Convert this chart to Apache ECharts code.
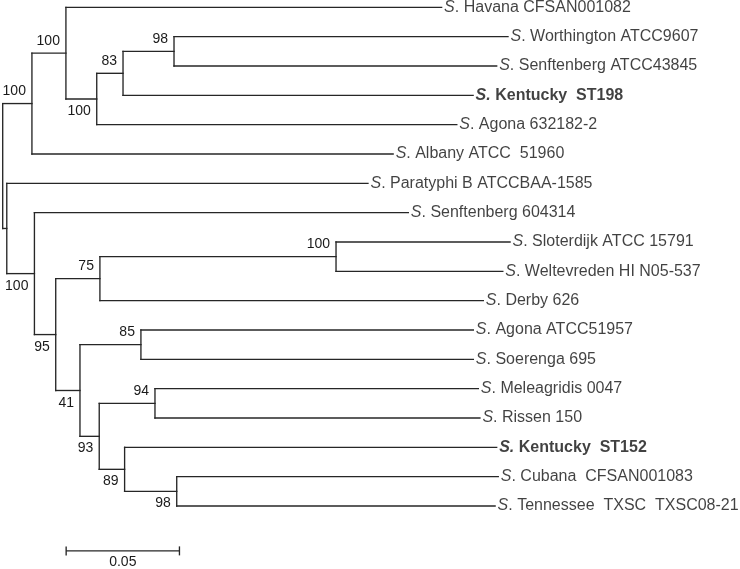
<!DOCTYPE html>
<html><head><meta charset="utf-8">
<script src="https://cdn.jsdelivr.net/npm/echarts@6/dist/echarts.min.js"></script>
<style>html,body{margin:0;padding:0;background:#fff}#c{width:740px;height:569px}</style>
</head><body><div id="c"></div>
<script>
const leafNames = [
  'Havana CFSAN001082',
  'Worthington ATCC9607',
  'Senftenberg ATCC43845',
  'Kentucky  ST198',
  'Agona 632182-2',
  'Albany ATCC  51960',
  'Paratyphi B ATCCBAA-1585',
  'Senftenberg 604314',
  'Sloterdijk ATCC 15791',
  'Weltevreden HI N05-537',
  'Derby 626',
  'Agona ATCC51957',
  'Soerenga 695',
  'Meleagridis 0047',
  'Rissen 150',
  'Kentucky  ST152',
  'Cubana  CFSAN001083',
  'Tennessee  TXSC  TXSC08-21'
];
const leafBold = [false,false,false,true,false,false,false,false,false,false,false,false,false,false,false,true,false,false];
// cumulative distance from root to each leaf
const leafDepth = [0.1937,0.2230,0.2180,0.2076,0.2004,0.1723,0.1612,0.1790,0.2239,0.2207,0.2121,0.2077,0.2077,0.2099,0.2106,0.2180,0.2187,0.2173];
// internal nodes: id, cumulative distance, children (number = leaf index, string = node id), bootstrap
const nodeIds      = ['R','A','B','C','D','E','F','G','H','I','J','K','L','M','N','O','P'];
const nodeDepth    = [0,0.0129,0.0279,0.0415,0.0531,0.0756,0.0018,0.0140,0.0234,0.0429,0.1471,0.0341,0.0610,0.0426,0.0672,0.0538,0.0768];
const nodeChildren = [['A','F'],['B',5],[0,'C'],['D',4],['E',3],[1,2],[6,'G'],[7,'H'],['I','K'],['J',10],[8,9],['L','M'],[11,12],['N','O'],[13,14],[15,'P'],[16,17]];
const nodeSupport  = [null,100,100,100,83,98,null,100,95,75,100,41,85,93,94,89,98];
// scale bar
const scaleBarStart = 0.028;
const scaleBarLength = 0.05;
const scaleBarLabel = '0.05';
const scaleBarRow = 18.53;

// ---- layout (rows from leaf order) ----
const nodeIndex = {}; nodeIds.forEach((id,i)=>nodeIndex[id]=i);
const nodeRow = new Array(nodeIds.length);
function rowOf(c){ return typeof c === 'number' ? c : computeRow(nodeIndex[c]); }
function depthOf(c){ return typeof c === 'number' ? leafDepth[c] : nodeDepth[nodeIndex[c]]; }
function computeRow(i){
  if (nodeRow[i] === undefined) { const ch = nodeChildren[i]; nodeRow[i] = (rowOf(ch[0]) + rowOf(ch[ch.length-1])) / 2; }
  return nodeRow[i];
}
nodeIds.forEach((_,i)=>computeRow(i));

const segments = [];
const supportLabels = [];
nodeIds.forEach((id,i)=>{
  const ch = nodeChildren[i];
  const x = nodeDepth[i];
  segments.push([x, rowOf(ch[0]), x, rowOf(ch[ch.length-1])]);
  ch.forEach((c,k)=>{
    segments.push([x, rowOf(c), depthOf(c), rowOf(c)]);
    if (typeof c !== 'number') {
      const j = nodeIndex[c];
      if (nodeSupport[j] != null) supportLabels.push([depthOf(c), rowOf(c), nodeSupport[j], k === 0 ? -1 : 1]);
    }
  });
});
const leafData = leafNames.map((n,i)=>[leafDepth[i], i, i]);

const LINE = '#262626';
const FONT = "'Liberation Sans', Arial, sans-serif";
const chart = echarts.init(document.getElementById('c'), null, {renderer:'canvas'});
chart.setOption({
  animation: false,
  backgroundColor: '#fff',
  grid: { left: 2.7, top: 7.3, width: 679.8, height: 498.7 },
  xAxis: { type:'value', min:0, max:0.3, show:false },
  yAxis: { type:'value', min:0, max:17, inverse:true, show:false },
  series: [
    {
      type:'custom', name:'branches', data: segments, encode:{x:[0,2], y:[1,3]}, silent:true,
      renderItem: (params, api) => {
        const p1 = api.coord([api.value(0), api.value(1)]);
        const p2 = api.coord([api.value(2), api.value(3)]);
        return { type:'line', shape:{x1:p1[0], y1:p1[1], x2:p2[0], y2:p2[1]},
                 style:{ stroke: LINE, lineWidth: 1.35, lineCap:'square' } };
      }
    },
    {
      type:'custom', name:'support', data: supportLabels, encode:{x:0, y:1}, silent:true,
      renderItem: (params, api) => {
        const p = api.coord([api.value(0), api.value(1)]);
        return { type:'text', x: p[0] - 6, y: p[1] + api.value(3) * 12.3,
                 style:{ text: String(api.value(2)), fill:'#1a1a1a', font: '14px ' + FONT, align:'right', verticalAlign:'middle' } };
      }
    },
    {
      type:'scatter', name:'leaves', data: leafData, symbolSize: 1, silent:true,
      itemStyle:{ color:'rgba(0,0,0,0)' },
      label: {
        show:true, position:'right', distance: 2,
        fontSize:16, fontFamily: FONT, color:'#111',
        formatter: p => {
          const i = p.data[2];
          return leafBold[i] ? '{bi|S.} {b|' + leafNames[i] + '}' : '{i|S}{n|. ' + leafNames[i] + '}';
        },
        rich: {
          i:  { fontSize:16, fontFamily: FONT, color:'#111', fontStyle:'italic' },
          n:  { fontSize:16, fontFamily: FONT, color:'#111' },
          bi: { fontSize:16, fontFamily: FONT, color:'#111', fontStyle:'italic', fontWeight:'bold' },
          b:  { fontSize:16, fontFamily: FONT, color:'#111', fontWeight:'bold' }
        }
      }
    },
    {
      type:'custom', name:'scalebar', data: [[scaleBarStart, scaleBarRow, scaleBarStart + scaleBarLength]], encode:{x:[0,2], y:1}, silent:true,
      renderItem: (params, api) => {
        const a = api.coord([api.value(0), api.value(1)]);
        const b = api.coord([api.value(2), api.value(1)]);
        const st = { stroke: LINE, lineWidth: 1.35 };
        return { type:'group', children:[
          { type:'line', shape:{x1:a[0], y1:a[1], x2:b[0], y2:b[1]}, style: st },
          { type:'line', shape:{x1:a[0], y1:a[1]-4.5, x2:a[0], y2:a[1]+4.5}, style: st },
          { type:'line', shape:{x1:b[0], y1:b[1]-4.5, x2:b[0], y2:b[1]+4.5}, style: st },
          { type:'text', x:(a[0]+b[0])/2, y:a[1]+11, style:{ text: scaleBarLabel, fill:'#1a1a1a', font:'14px ' + FONT, align:'center', verticalAlign:'middle' } }
        ]};
      }
    }
  ]
});
</script></body></html>
